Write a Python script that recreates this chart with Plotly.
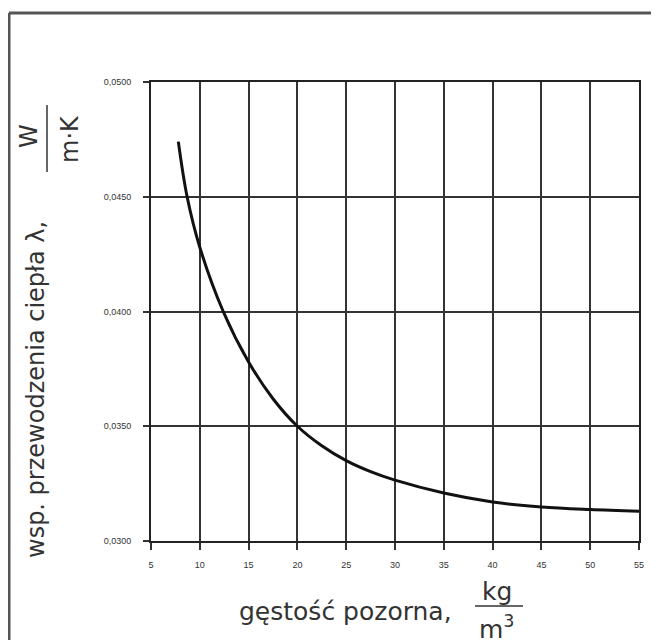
import plotly.graph_objects as go

# Data
density = [7.8, 8.7, 10, 12.4, 15, 17.5, 20, 22.5, 25, 27.5, 30, 35, 40, 45, 50, 55]
conductivity = [0.0474, 0.0450, 0.0428, 0.0400, 0.0378, 0.0362, 0.0350, 0.03415,
                0.03350, 0.03302, 0.03265, 0.03209, 0.0317, 0.03148, 0.03137, 0.0313]

x_ticks = [5, 10, 15, 20, 25, 30, 35, 40, 45, 50, 55]
x_tick_labels = [str(v) for v in x_ticks]
y_ticks = [0.0300, 0.0350, 0.0400, 0.0450, 0.0500]
y_tick_labels = ["0,0300", "0,0350", "0,0400", "0,0450", "0,0500"]

# The page body adds an 8px offset, so the figure is drawn 8px smaller
OFF = 8
W, H = 659 - OFF, 640 - OFF
L, R, T, B = 151 - OFF, 20, 82 - OFF, 99
PW, PH = W - L - R, H - T - B


def px(xp):
    return (xp - OFF - L) / PW


def py(yp):
    return (H - B - (yp - OFF)) / PH


fig = go.Figure()
fig.add_trace(go.Scatter(
    x=density, y=conductivity, mode="lines",
    line=dict(color="#111111", width=3, shape="spline", smoothing=1.0),
    showlegend=False, hoverinfo="skip"))

y_title_font = dict(family="DejaVu Sans", size=24, color="#333333")
x_title_font = dict(family="DejaVu Sans", size=25, color="#333333")
tick_font = dict(family="Liberation Sans", size=9, color="#333333")

fig.update_layout(
    width=W, height=H,
    margin=dict(l=L, r=R, t=T, b=B, pad=0),
    paper_bgcolor="white", plot_bgcolor="white",
    xaxis=dict(range=[5, 55], tickvals=x_ticks, ticktext=x_tick_labels,
               showgrid=True, gridcolor="#333333", gridwidth=1.5,
               showline=True, linecolor="#222222", linewidth=2, mirror=True,
               ticks="outside", ticklen=7, tickwidth=1.5, tickcolor="#333333",
               tickfont=tick_font, ticklabelstandoff=7, zeroline=False,
               fixedrange=True),
    yaxis=dict(range=[0.03, 0.05], tickvals=y_ticks, ticktext=y_tick_labels,
               showgrid=True, gridcolor="#333333", gridwidth=2,
               showline=True, linecolor="#222222", linewidth=2, mirror=True,
               ticks="outside", ticklen=6, tickwidth=1.5, tickcolor="#333333",
               tickfont=tick_font, ticklabelstandoff=10, zeroline=False,
               fixedrange=True),
)

# Outer frame (left and top border of the scanned box)
fig.add_shape(type="line", xref="paper", yref="paper",
              x0=px(9), x1=px(9), y0=py(13), y1=py(660),
              line=dict(color="#555555", width=3))
fig.add_shape(type="line", xref="paper", yref="paper",
              x0=px(9), x1=px(680), y0=py(13), y1=py(13),
              line=dict(color="#555555", width=3))

# Y axis title with fraction
fig.add_annotation(xref="paper", yref="paper", x=px(36), y=py(390),
                   text="wsp. przewodzenia ciepła λ,", textangle=-90,
                   showarrow=False, font=y_title_font,
                   xanchor="center", yanchor="middle")
fig.add_annotation(xref="paper", yref="paper", x=px(29), y=py(136),
                   text="W", textangle=-90, showarrow=False, font=y_title_font,
                   xanchor="center", yanchor="middle")
fig.add_shape(type="line", xref="paper", yref="paper",
              x0=px(47), x1=px(47), y0=py(105), y1=py(172),
              line=dict(color="#333333", width=1.5))
fig.add_annotation(xref="paper", yref="paper", x=px(70), y=py(139),
                   text="m·K", textangle=-90, showarrow=False, font=y_title_font,
                   xanchor="center", yanchor="middle")

# X axis title with fraction
fig.add_annotation(xref="paper", yref="paper", x=px(345), y=py(611),
                   text="gęstość pozorna,", showarrow=False, font=x_title_font,
                   xanchor="center", yanchor="middle")
fig.add_annotation(xref="paper", yref="paper", x=px(497), y=py(591),
                   text="kg", showarrow=False, font=x_title_font,
                   xanchor="center", yanchor="middle")
fig.add_shape(type="line", xref="paper", yref="paper",
              x0=px(475), x1=px(523), y0=py(606), y1=py(606),
              line=dict(color="#333333", width=1.5))
fig.add_annotation(xref="paper", yref="paper", x=px(497), y=py(627),
                   text="m<sup>3</sup>", showarrow=False, font=x_title_font,
                   xanchor="center", yanchor="middle")

fig.write_html("out.html")
